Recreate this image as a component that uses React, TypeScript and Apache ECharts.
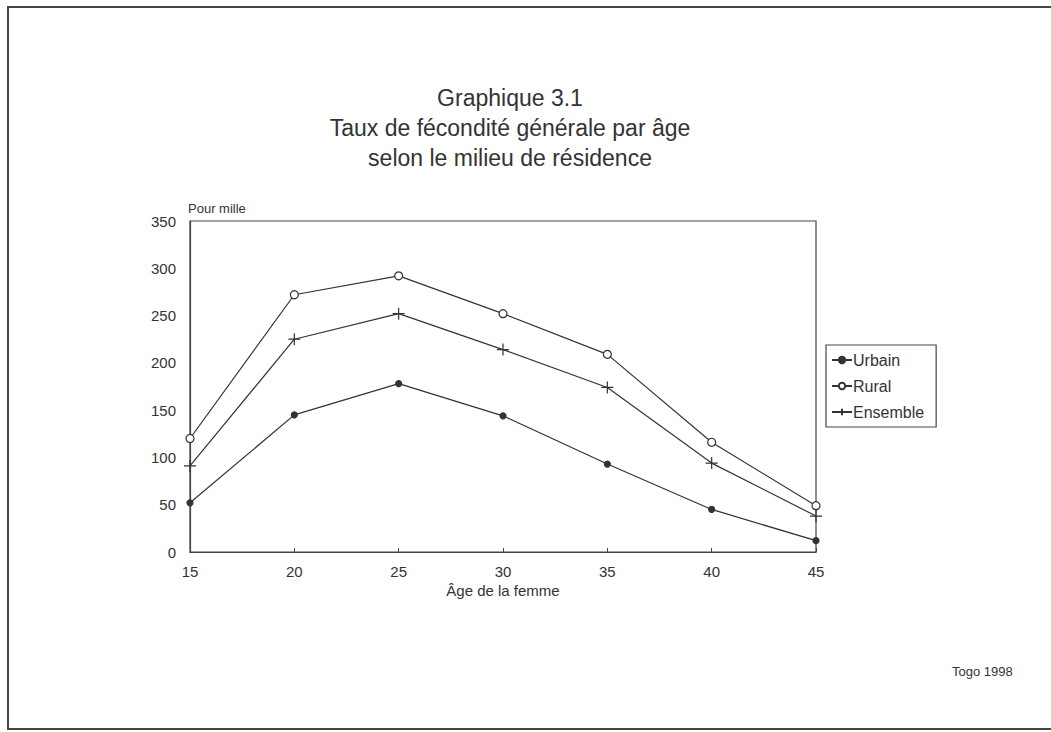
import React, { useEffect, useRef } from "react";
import * as echarts from "echarts";

const ages = [15, 20, 25, 30, 35, 40, 45];
const urbain = [52, 145, 178, 144, 93, 45, 12];
const rural = [120, 272, 292, 252, 209, 116, 49];
const ensemble = [91, 225, 252, 214, 174, 94, 38];

const PLUS = "path://M0,5 L10,5 M5,0 L5,10";
const FONT = "'Liberation Sans', Arial, sans-serif";

export default function App() {
  const ref = useRef<HTMLDivElement>(null);
  useEffect(() => {
    const chart = echarts.init(ref.current!, null, { renderer: "svg" });
    const mk = (name: string, data: number[], symbol: string, size: number, fill: string) => ({
      name,
      type: "line",
      data: ages.map((a, i) => [a, data[i]]),
      symbol,
      symbolSize: size,
      showSymbol: true,
      lineStyle: { color: "#333", width: 1.2 },
      itemStyle: { color: fill, borderColor: "#333", borderWidth: 1.2 },
    });
    chart.setOption({
      animation: false,
      backgroundColor: "#fff",
      textStyle: { fontFamily: FONT },
      title: {
        text: "Graphique 3.1\nTaux de fécondité générale par âge\nselon le milieu de résidence",
        left: 505,
        textAlign: "center",
        top: 78,
        textStyle: { fontFamily: FONT, fontSize: 23, fontWeight: "normal", color: "#333", lineHeight: 30 },
      },
      grid: { left: 190, right: 235, top: 221, bottom: 180, show: true, borderColor: "#444", borderWidth: 1.2 },
      xAxis: {
        type: "value",
        min: 15,
        max: 45,
        interval: 5,
        name: "Âge de la femme",
        nameLocation: "middle",
        nameGap: 31,
        nameTextStyle: { fontSize: 15, color: "#333", fontFamily: FONT },
        axisLine: { lineStyle: { color: "#444", width: 1.2 } },
        axisTick: { show: true, inside: true, length: 4, lineStyle: { color: "#444" } },
        axisLabel: { fontSize: 15, color: "#333", margin: 12, fontFamily: FONT },
        splitLine: { show: false },
      },
      yAxis: {
        type: "value",
        min: 0,
        max: 350,
        interval: 50,
        name: "Pour mille",
        nameLocation: "end",
        nameGap: 6,
        nameTextStyle: { fontSize: 13, color: "#333", align: "left", padding: [0, 0, 0, -2], fontFamily: FONT },
        axisLine: { show: true, lineStyle: { color: "#444", width: 1.2 } },
        axisTick: { show: false },
        axisLabel: { fontSize: 15, color: "#333", margin: 14, fontFamily: FONT },
        splitLine: { show: false },
      },
      legend: {
        orient: "vertical",
        left: 826,
        top: 345,
        padding: [7, 12, 7, 5],
        itemGap: 10,
        itemWidth: 20,
        itemHeight: 8,
        borderColor: "#444",
        borderWidth: 1.2,
        textStyle: { fontSize: 16, color: "#333", padding: [0, 0, 0, -4], fontFamily: FONT },
        data: ["Urbain", "Rural", "Ensemble"],
      },
      graphic: [
        {
          type: "rect",
          shape: { x: 8, y: 7, width: 1060, height: 722 },
          style: { fill: "none", stroke: "#444", lineWidth: 2 },
          silent: true,
        },
        {
          type: "text",
          left: 952,
          top: 665,
          style: { text: "Togo 1998", fontSize: 13, fill: "#333", fontFamily: FONT },
        },
      ],
      series: [
        mk("Urbain", urbain, "circle", 6, "#333"),
        mk("Rural", rural, "circle", 8, "#fff"),
        mk("Ensemble", ensemble, PLUS, 12, "none"),
      ],
    });
    return () => chart.dispose();
  }, []);
  return (
    <div
      ref={ref}
      style={{ position: "fixed", left: 0, top: 0, width: 1051, height: 732 }}
    />
  );
}
